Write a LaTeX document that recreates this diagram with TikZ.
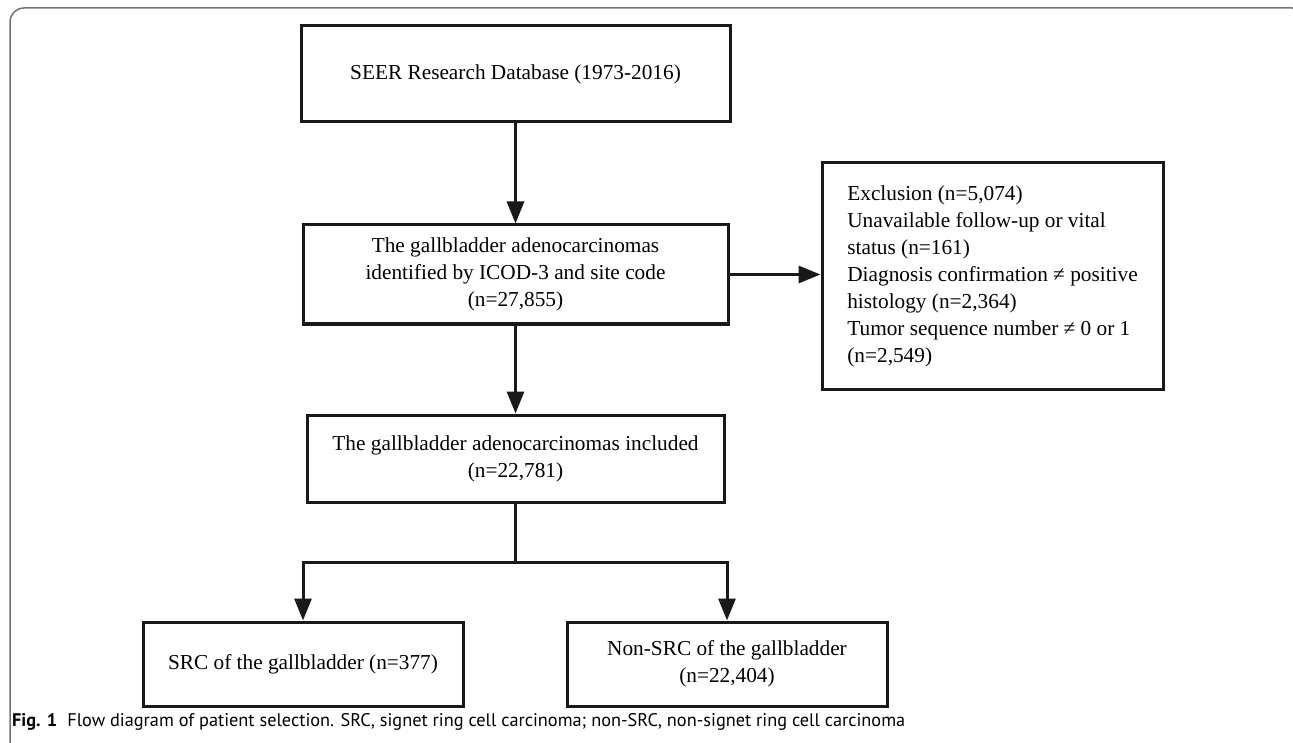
\documentclass[tikz,border=0pt]{standalone}
\usepackage{fontspec}
\setmainfont{Liberation Serif}
\newfontfamily\capfont{PT Sans}
\usetikzlibrary{arrows.meta}

\begin{document}
\begin{tikzpicture}[x=1pt, y=-1pt,
	box/.style={draw=black!90, line width=3pt, align=center, font=\fontsize{21.3}{27}\selectfont},
	flow/.style={draw=black!90, line width=3pt, -{Triangle[length=22pt,width=17pt]}}]
	% Page and frame
	\useasboundingbox (0,0) rectangle (1293,743);
	\draw[black!55, line width=1.5pt, rounded corners=14pt] (10,760) -- (10,8) -- (1306,8) -- (1306,760);

	% Boxes
	\node[box, minimum width=429pt, minimum height=96pt] (seer) at (515.5,74) {SEER Research Database (1973-2016)};
	\node[box, minimum width=425pt, minimum height=99pt] (ident) at (515.5,274.5) {The gallbladder adenocarcinomas\\identified by ICOD-3 and site code\\(n=27,855)};
	\node[box, align=left, minimum width=341pt, minimum height=226pt] (excl) at (992.5,276) {Exclusion (n=5,074)\\Unavailable follow-up or vital\\status (n=161)\\Diagnosis confirmation ≠ positive\\histology (n=2,364)\\Tumor sequence number ≠ 0 or 1\\(n=2,549)};
	\node[box, minimum width=417pt, minimum height=87pt] (incl) at (515.5,458.5) {The gallbladder adenocarcinomas included\\(n=22,781)};
	\node[box, minimum width=320pt, minimum height=84pt] (src) at (303,664) {SRC of the gallbladder (n=377)};
	\node[box, minimum width=320pt, minimum height=84pt] (nonsrc) at (727,664) {Non-SRC of the gallbladder\\(n=22,404)};

	% Arrows
	\draw[flow] (seer) -- (ident);
	\draw[flow] (ident.east) -- (ident.east -| excl.west);
	\draw[flow] (ident) -- (incl);
	% Split
	\coordinate (split) at (515.5,562);
	\draw[draw=black!90, line width=3pt] (incl) -- (split);
	\draw[flow] (split) -| (src);
	\draw[flow] (split) -| (nonsrc);

	% Caption
	\node[anchor=west, inner sep=0pt, font=\capfont\fontsize{18.3}{20}\selectfont] (cap) at (12,722) {\textbf{Fig. 1}\hspace{0.55em}Flow diagram of patient selection. SRC, signet ring cell carcinoma; non-SRC, non-signet ring cell carcinoma};
\end{tikzpicture}
\end{document}
